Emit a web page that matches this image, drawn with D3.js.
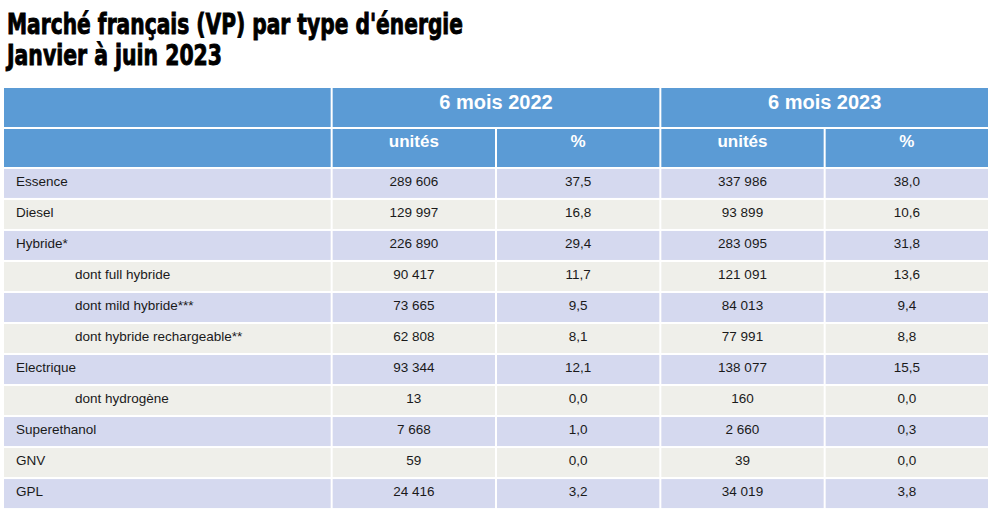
<!DOCTYPE html>
<html><head><meta charset="utf-8">
<script src="https://cdn.jsdelivr.net/npm/d3@7"></script>
<style>body{margin:0;background:#fff;}svg{display:block;}</style>
</head><body>
<svg id="c" width="1000" height="519"></svg>
<script>
const titleLines = ["Marché français (VP) par type d'énergie", "Janvier à juin 2023"];
const periods = ["6 mois 2022", "6 mois 2023"];
const subHeaders = ["unités", "%", "unités", "%"];
const categories = ["Essence","Diesel","Hybride*","dont full hybride","dont mild hybride***","dont hybride rechargeable**","Electrique","dont hydrogène","Superethanol","GNV","GPL"];
const units2022 = ["289 606","129 997","226 890","90 417","73 665","62 808","93 344","13","7 668","59","24 416"];
const pct2022 = ["37,5","16,8","29,4","11,7","9,5","8,1","12,1","0,0","1,0","0,0","3,2"];
const units2023 = ["337 986","93 899","283 095","121 091","84 013","77 991","138 077","160","2 660","39","34 019"];
const pct2023 = ["38,0","10,6","31,8","13,6","9,4","8,8","15,5","0,0","0,3","0,0","3,8"];

const svg = d3.select("#c");
const headBlue = "#5b9bd5", rowA = "#d5d9ef", rowB = "#efefea";

// title
const tw = [456, 215];
titleLines.forEach((t,i)=>{
  svg.append("text").attr("x",7).attr("y",[34,65][i])
    .attr("font-family","'DejaVu Sans Condensed','DejaVu Sans',sans-serif")
    .attr("font-weight","bold").attr("font-size",29)
    .attr("textLength",tw[i]).attr("lengthAdjust","spacingAndGlyphs")
    .attr("fill","#000").attr("stroke","#000").attr("stroke-width",0.9)
    .text(t);
});

// column scale: first col 2 units, others 1 unit
const x = d3.scaleLinear().domain([0,6]).range([3,989]);
const colStart = [0,2,3,4,5], colEnd = [2,3,4,5,6];
const y = d3.scaleBand().domain(categories).range([168,509]).paddingInner(0.065).paddingOuter(0.03);

// header row 1
const h1 = [[0,2,""],[2,4,periods[0]],[4,6,periods[1]]];
svg.selectAll(".h1").data(h1).enter().append("rect")
  .attr("x",d=>x(d[0])+1).attr("width",d=>x(d[1])-x(d[0])-2)
  .attr("y",88).attr("height",39).attr("fill",headBlue);
svg.selectAll(".h1t").data(h1).enter().append("text")
  .attr("x",d=>(x(d[0])+x(d[1]))/2).attr("y",109).attr("text-anchor","middle")
  .attr("font-family","'Liberation Sans',Arial,sans-serif").attr("font-weight","bold")
  .attr("font-size",20).attr("fill","#fff").text(d=>d[2]);

// header row 2
const h2 = [["",0]].concat(subHeaders.map((s,i)=>[s,i+1]));
svg.selectAll(".h2").data(h2).enter().append("rect")
  .attr("x",d=>x(colStart[d[1]])+1).attr("width",d=>x(colEnd[d[1]])-x(colStart[d[1]])-2)
  .attr("y",129).attr("height",38).attr("fill",headBlue);
svg.selectAll(".h2t").data(h2).enter().append("text")
  .attr("x",d=>(x(colStart[d[1]])+x(colEnd[d[1]]))/2).attr("y",147).attr("text-anchor","middle")
  .attr("font-family","'Liberation Sans',Arial,sans-serif").attr("font-weight","bold")
  .attr("font-size",17).attr("fill","#fff").text(d=>d[0]);

// data rows
const rows = categories.map((c,i)=>({c,i,vals:[units2022[i],pct2022[i],units2023[i],pct2023[i]]}));
const g = svg.selectAll(".row").data(rows).enter().append("g");
g.each(function(r){
  const sel = d3.select(this);
  const fill = r.i%2===0 ? rowA : rowB;
  for(let k=0;k<5;k++){
    sel.append("rect").attr("x",x(colStart[k])+1).attr("width",x(colEnd[k])-x(colStart[k])-2)
      .attr("y",y(r.c)).attr("height",y.bandwidth()).attr("fill",fill);
  }
  const ty = y(r.c)+y.bandwidth()/2+2.5;
  const indent = r.c.startsWith("dont");
  sel.append("text").attr("x",indent?75:16).attr("y",ty)
    .attr("font-family","'Liberation Sans',Arial,sans-serif").attr("font-size",13.5).attr("fill","#1a1a1a")
    .text(r.c);
  r.vals.forEach((v,k)=>{
    sel.append("text").attr("x",(x(colStart[k+1])+x(colEnd[k+1]))/2).attr("y",ty).attr("text-anchor","middle")
      .attr("font-family","'Liberation Sans',Arial,sans-serif").attr("font-size",13.5).attr("fill","#1a1a1a")
      .text(v);
  });
});
</script>
</body></html>
